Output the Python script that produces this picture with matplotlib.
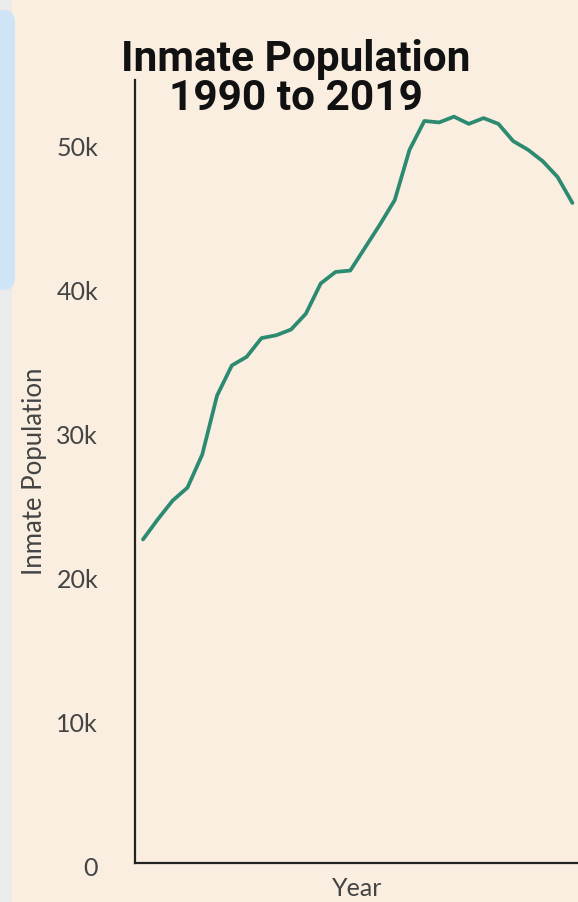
import matplotlib
matplotlib.use("Agg")
import matplotlib.pyplot as plt
import matplotlib.transforms as mtransforms
from matplotlib.patches import FancyBboxPatch, Rectangle

years = list(range(1990, 2020))
population = [22500, 23900, 25200, 26100, 28400, 32500, 34600, 35200, 36500, 36700,
              37100, 38200, 40300, 41100, 41200, 42800, 44400, 46100, 49600, 51600,
              51500, 51900, 51400, 51800, 51400, 50200, 49600, 48800, 47700, 45900]
yticks = [0, 10000, 20000, 30000, 40000, 50000]
ytick_labels = ["0", "10k", "20k", "30k", "40k", "50k"]

W, H = 578, 902
bg = "#f9eedf"
fig = plt.figure(figsize=(W / 100, H / 100), dpi=100, facecolor=bg)

# left UI fragments
fig.patches.append(Rectangle((0, 0), 12 / W, 1, transform=fig.transFigure,
                             facecolor="#ebebeb", edgecolor="none", zorder=0))
blue = FancyBboxPatch((-30 / W, 1 - 290 / H), 45 / W, 280 / H,
                      boxstyle="round,pad=0,rounding_size=0.02",
                      transform=fig.transFigure, mutation_aspect=W / H,
                      facecolor="#cfe4f6", edgecolor="none", zorder=1)
fig.patches.append(blue)

ax = fig.add_axes([135 / W, (H - 863) / H, 470 / W, (863 - 80) / H])
ax.set_facecolor(bg)
ax.plot(years, population, color="#2b8a70", linewidth=2.7, solid_capstyle="round",
        solid_joinstyle="round")
ax.set_xlim(1989.46, 2021.2)
ax.set_ylim(0, 54450)
ax.set_yticks(yticks)
ax.set_yticklabels(ytick_labels, family="Lato", fontsize=18, color="#444444")
ax.set_xticks([])
ax.tick_params(axis="y", length=0, pad=26.5)
offset = mtransforms.ScaledTranslation(0, -3 / 100, fig.dpi_scale_trans)
for lab in ax.get_yticklabels():
    lab.set_transform(lab.get_transform() + offset)
for s in ["top", "right"]:
    ax.spines[s].set_visible(False)
for s in ["left", "bottom"]:
    ax.spines[s].set_color("#222222")
    ax.spines[s].set_linewidth(1.6)

fig.text(35 / W, 1 - 471 / H, "Inmate Population", rotation=90, ha="center", va="center",
         family="Lato", fontsize=18.5, color="#444444")
fig.text(357 / W, 1 - 889 / H, "Year", ha="center", va="center",
         family="Lato", fontsize=18, color="#444444")
fig.text(296 / W, 1 - 59 / H, "Inmate Population", ha="center", va="center",
         family="Roboto", fontweight="bold", fontsize=30.5, color="#111111")
fig.text(296 / W, 1 - 98 / H, "1990 to 2019", ha="center", va="center",
         family="Roboto", fontweight="bold", fontsize=30.5, color="#111111")

fig.savefig("out.png", dpi=100, facecolor=bg)
